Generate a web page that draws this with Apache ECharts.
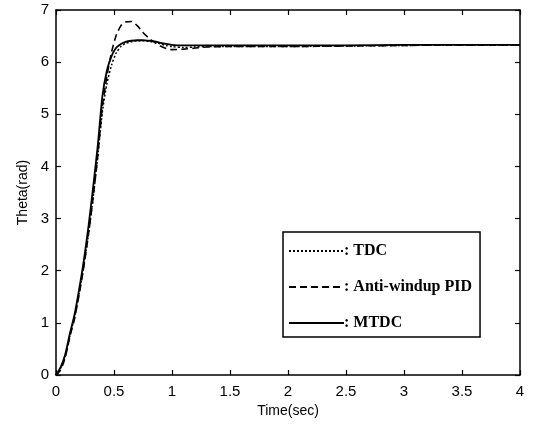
<!DOCTYPE html>
<html>
<head>
<meta charset="utf-8">
<script src="https://cdn.jsdelivr.net/npm/echarts@6/dist/echarts.min.js"></script>
<style>
  html, body { margin: 0; padding: 0; background: #fff; }
  #chart { width: 535px; height: 424px; }
</style>
</head>
<body>
<div id="chart"></div>
<script>
// sample times (sec), denser during the rise
const time = [0, 0.04, 0.08, 0.12, 0.16, 0.2, 0.24, 0.28, 0.32, 0.36, 0.4, 0.44, 0.48, 0.52,
  0.56, 0.6, 0.65, 0.7, 0.75, 0.8, 0.85, 0.9, 0.95, 1.0, 1.1, 1.2, 1.3, 1.5, 2, 2.5, 3, 3.5, 4];

// theta (rad) per controller
const tdc = [0, 0.13, 0.36, 0.76, 1.1, 1.58, 2.1, 2.7, 3.4, 4.2, 5.05, 5.6, 5.95, 6.18,
  6.3, 6.36, 6.39, 6.41, 6.41, 6.4, 6.38, 6.35, 6.32, 6.3, 6.28, 6.29, 6.3, 6.3, 6.3, 6.31, 6.32, 6.33, 6.33];
const antiWindupPid = [0, 0.1, 0.34, 0.74, 1.08, 1.55, 2.08, 2.7, 3.4, 4.2, 5.15, 5.75, 6.2, 6.52,
  6.7, 6.77, 6.78, 6.7, 6.57, 6.46, 6.38, 6.31, 6.26, 6.24, 6.25, 6.27, 6.29, 6.3, 6.3, 6.31, 6.32, 6.33, 6.33];
const mtdc = [0, 0.15, 0.4, 0.8, 1.16, 1.65, 2.2, 2.85, 3.6, 4.4, 5.35, 5.85, 6.12, 6.28,
  6.35, 6.39, 6.41, 6.42, 6.42, 6.41, 6.4, 6.37, 6.35, 6.33, 6.32, 6.32, 6.32, 6.32, 6.32, 6.32, 6.33, 6.33, 6.33];

const seriesNames = ['TDC', 'Anti-windup PID', 'MTDC'];

const chart = echarts.init(document.getElementById('chart'));

const pairs = (vals) => time.map((t, i) => [t, vals[i]]);

const labelFont = { color: '#000', fontFamily: 'Liberation Sans, Arial, sans-serif', fontSize: 15 };

// frame axes: black line, short ticks pointing into the plot
const frameLine = { show: true, onZero: false, lineStyle: { color: '#000', width: 1.5 } };
const frameTick = { show: true, inside: true, length: 5, lineStyle: { color: '#000', width: 1.2 } };

const option = {
  backgroundColor: '#fff',
  animation: false,
  grid: { left: 56, right: 15, top: 10, bottom: 49 },
  legend: {
    left: 283,
    top: 232,
    orient: 'vertical',
    data: seriesNames,
    backgroundColor: '#fff',
    borderColor: '#000',
    borderWidth: 1.5,
    borderRadius: 0,
    padding: [11, 8, 6, 5],
    itemWidth: 55,
    itemHeight: 14,
    itemGap: 20,
    itemStyle: { opacity: 0 },
    formatter: (name) => ': ' + name,
    textStyle: {
      color: '#000', fontFamily: 'Liberation Serif, Times New Roman, serif',
      fontSize: 16, fontWeight: 'bold', padding: [0, 0, 0, -5]
    }
  },
  xAxis: [
    {
      type: 'value', min: 0, max: 4, interval: 0.5,
      name: 'Time(sec)', nameLocation: 'middle', nameGap: 29,
      nameTextStyle: { color: '#000', fontFamily: 'Liberation Sans, Arial, sans-serif', fontSize: 14 },
      axisLine: frameLine,
      axisTick: frameTick,
      axisLabel: Object.assign({ margin: 9 }, labelFont),
      splitLine: { show: false }
    },
    {
      type: 'value', position: 'top', min: 0, max: 4, interval: 0.5,
      axisLine: frameLine, axisTick: frameTick, axisLabel: { show: false }, splitLine: { show: false }
    }
  ],
  yAxis: [
    {
      type: 'value', min: 0, max: 7, interval: 1,
      name: 'Theta(rad)', nameLocation: 'middle', nameGap: 22,
      nameTextStyle: { color: '#000', fontFamily: 'Liberation Sans, Arial, sans-serif', fontSize: 14 },
      axisLine: frameLine,
      axisTick: frameTick,
      axisLabel: Object.assign({ margin: 7 }, labelFont),
      splitLine: { show: false }
    },
    {
      type: 'value', position: 'right', min: 0, max: 7, interval: 1,
      axisLine: frameLine, axisTick: frameTick, axisLabel: { show: false }, splitLine: { show: false }
    }
  ],
  series: [
    {
      name: 'TDC', type: 'line', data: pairs(tdc), smooth: 0.25, symbol: 'none',
      lineStyle: { color: '#000', width: 1.5, type: [2, 2] }, itemStyle: { color: '#000' }
    },
    {
      name: 'Anti-windup PID', type: 'line', data: pairs(antiWindupPid), smooth: 0.25, symbol: 'none',
      lineStyle: { color: '#000', width: 1.6, type: [7, 4] }, itemStyle: { color: '#000' }
    },
    {
      name: 'MTDC', type: 'line', data: pairs(mtdc), smooth: 0.25, symbol: 'none',
      lineStyle: { color: '#000', width: 1.8 }, itemStyle: { color: '#000' }
    }
  ]
};

chart.setOption(option);

window.addEventListener('resize', () => {
  chart.resize();
});
</script>
</body>
</html>
